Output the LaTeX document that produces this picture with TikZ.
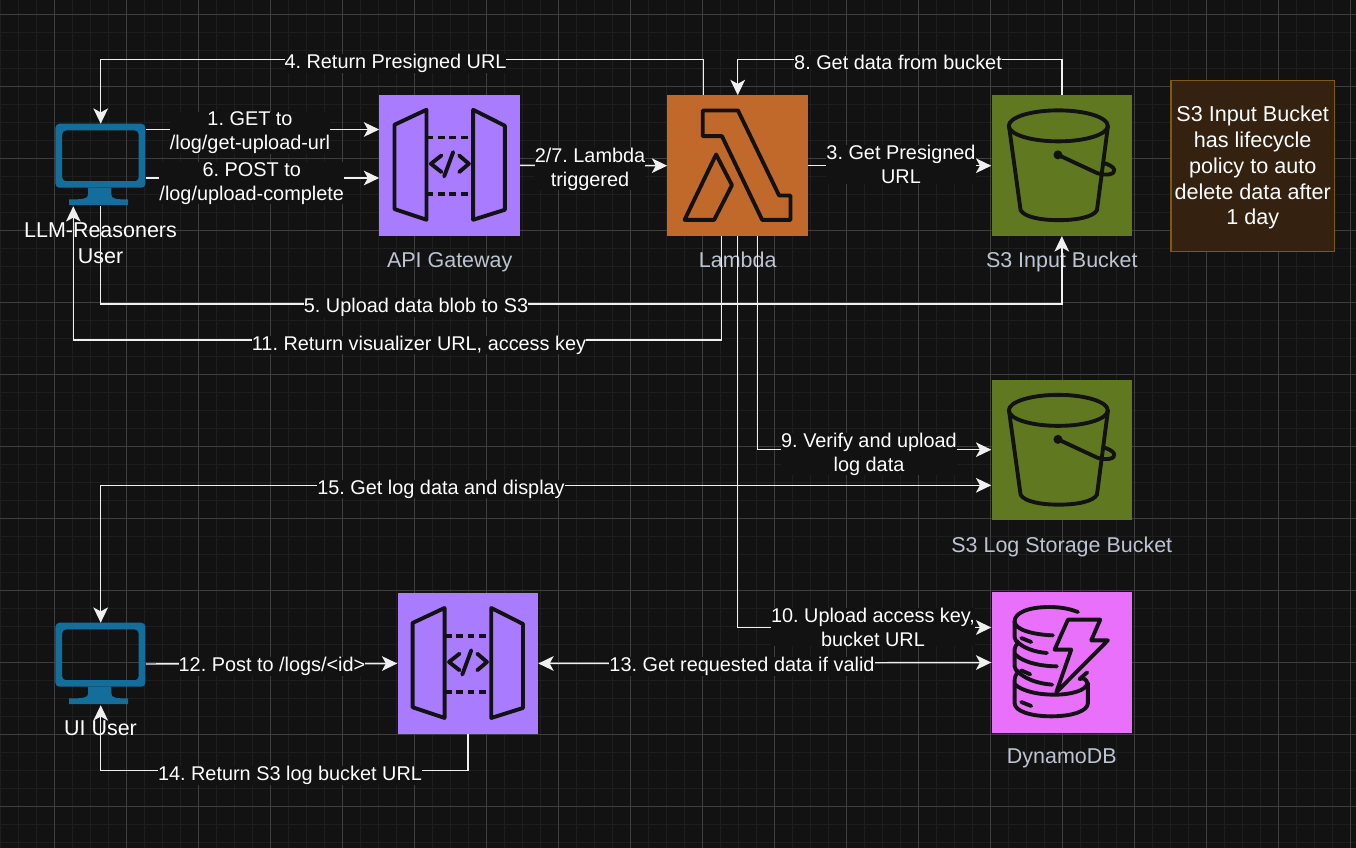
\documentclass[tikz,border=0pt]{standalone}
\usepackage{fontspec}
\setmainfont{Liberation Sans}
\frenchspacing
\usetikzlibrary{arrows.meta,positioning,calc}
\definecolor{canvas}{RGB}{18,18,18}
\definecolor{minorgrid}{RGB}{30,30,30}
\definecolor{majorgrid}{RGB}{62,62,62}
\definecolor{wire}{RGB}{240,240,240}
\definecolor{gatewayfill}{RGB}{169,124,255}
\definecolor{lambdafill}{RGB}{193,105,42}
\definecolor{bucketfill}{RGB}{96,121,32}
\definecolor{dynamofill}{RGB}{233,112,251}
\definecolor{monitorfill}{RGB}{20,110,155}
\definecolor{awstext}{RGB}{188,196,210}
\definecolor{notefill}{RGB}{52,33,15}
\definecolor{noteedge}{RGB}{125,90,15}
\tikzset{
  >={Stealth[length=11.5pt,width=11pt,inset=3pt]},
  awsbox/.style={minimum width=105.4pt,minimum height=105.4pt,inner sep=0pt},
  userbox/.style={minimum width=67.5pt,minimum height=61.5pt,inner sep=0pt},
  conn/.style={draw=wire,line width=1.1pt,->},
  conntwo/.style={draw=wire,line width=1.1pt,<->},
  iconline/.style={draw=canvas,line width=2.9pt,line join=round,line cap=round},
  awslabel/.style={text=awstext,font=\fontsize{16.1}{18}\selectfont,inner sep=0pt},
  userlabel/.style={text=white,font=\fontsize{16.1}{19}\selectfont,align=center,inner sep=0pt},
  wirelabel/.style={text=white,fill=canvas,font=\fontsize{14.9}{18}\selectfont,align=center,inner sep=0pt},
  pics/bucketicon/.style={code={
    \draw[iconline] (67,30.7) ellipse (49.5 and 15.5);
    \draw[iconline] (17.7,30.7) -- (29.3,115) .. controls (33,122) and (50,125) .. (67.5,125) .. controls (85,125) and (102,122) .. (105.7,115) -- (116.7,30.7);
    \fill[canvas] (66.7,59.7) circle (4.5);
    \draw[iconline] (66.7,59.7) -- (106,78) .. controls (116,81) and (124,79) .. (123,74.5) .. controls (122,71.5) and (117,69) .. (113,68);
  }},
  pics/lambdaicon/.style={code={
    \draw[iconline] (35.6,15.3) -- (70.8,15.3) -- (111.9,100.3) -- (123.3,100.3) -- (123.3,124.7) -- (95,124.7) -- (54.8,41) -- (35.6,41) -- cycle;
    \draw[iconline] (48.9,59.3) -- (64.8,90) -- (47,124.7) -- (17.4,124.7) -- cycle;
  }},
  pics/gatewayicon/.style={code={
    \draw[iconline] (15.3,30) -- (47.3,15) -- (47.3,125) -- (15.3,114.3) -- cycle;
    \draw[iconline] (94,15) -- (125.7,31) -- (125.7,115) -- (94,125) -- cycle;
    \draw[iconline,line cap=butt,dash pattern=on 5.2pt off 3.4pt] (47.3,42.7) -- (94,42.7);
    \draw[iconline,line cap=butt,dash pattern=on 5.2pt off 3.4pt] (47.3,99.3) -- (94,99.3);
    \draw[iconline] (62.3,60.7) -- (51.7,69) -- (62.3,77.3);
    \draw[iconline] (80,60.7) -- (89.7,69) -- (80,77.3);
    \draw[iconline] (74,57.3) -- (65,81.7);
  }},
  pics/dynamoicon/.style={code={
    \begin{scope}[shift={(8.3,7.7)},x=.25pt,y=-.25pt]
      \draw[iconline] (235,37) .. controls (210,27) and (180,22) .. (150,22) .. controls (85,22) and (45,40) .. (45,65) .. controls (45,90) and (100,105) .. (160,107);
      \draw[iconline] (45,65) -- (45,112) .. controls (45,120) and (50,125) .. (56,130) .. controls (50,135) and (45,142) .. (45,150) -- (45,200) .. controls (45,208) and (50,212) .. (56,216) .. controls (50,222) and (45,230) .. (45,245) -- (45,310) .. controls (45,335) and (95,350) .. (155,350) .. controls (215,350) and (265,335) .. (265,310) -- (265,250);
      \draw[iconline] (52,125) .. controls (70,145) and (105,157) .. (142,160);
      \draw[iconline] (48,165) .. controls (70,188) and (125,200) .. (172,200);
      \draw[iconline] (50,212) .. controls (75,238) and (115,252) .. (158,255);
      \draw[iconline] (47,255) .. controls (70,275) and (115,285) .. (165,285) .. controls (215,285) and (262,272) .. (263,250) .. controls (262,240) and (250,232) .. (240,238);
      \draw[iconline] (263,218) -- (240,238);
      \draw[iconline] (65,115) -- (95,127);
      \draw[iconline] (65,212) -- (92,224);
      \draw[iconline] (65,307) -- (95,319);
      \draw[iconline] (205,60) -- (302,60) -- (275,122) -- (325,122) -- (170,278) -- (215,150) -- (165,150) -- cycle;
    \end{scope}
  }},
  pics/monitoricon/.style={code={
    \fill[monitorfill,even odd rule,rounded corners=3pt] (0,0) rectangle (90,64) (6.7,6.7) rectangle (83.3,57.5);
    \fill[monitorfill] (32.6,64) -- (32.6,71) .. controls (32.6,75) and (28,75.7) .. (13.6,75.7) -- (13.6,81.5) -- (72.6,81.5) -- (72.6,75.7) .. controls (60,75.7) and (56,75) .. (56,71) -- (56,64) -- cycle;
  }}
}
\begin{document}
\begin{tikzpicture}[x=.75pt,y=-.75pt]
  \useasboundingbox (0,0) rectangle (1356,848);
  \fill[canvas] (0,0) rectangle (1356,848);
  \foreach \gx in {0.3,18.3,...,1356} \draw[minorgrid,line width=1.1pt] (\gx,0) -- (\gx,848);
  \foreach \gy in {14.7,32.7,...,848} \draw[minorgrid,line width=1.1pt] (0,\gy) -- (1356,\gy);
  \foreach \gx in {54.3,126.3,...,1356} \draw[majorgrid,line width=.75pt] (\gx,0) -- (\gx,848);
  \foreach \gy in {14.7,86.7,...,848} \draw[majorgrid,line width=.75pt] (0,\gy) -- (1356,\gy);

  \node[userbox] (user1) at (100.7,165) {};
  \node[userbox] (user2) at (100.7,664) {};
  \node[awsbox,fill=gatewayfill] (gateway1) at (449.7,165.3) {};
  \node[awsbox,fill=lambdafill] (lambda) at (737.7,165.7) {};
  \node[awsbox,fill=bucketfill] (s3in) at (1061.8,165.7) {};
  \node[awsbox,fill=bucketfill] (s3log) at (1061.8,450.2) {};
  \node[awsbox,fill=dynamofill] (dynamo) at (1061.8,662.5) {};
  \node[awsbox,fill=gatewayfill] (gateway2) at (467.8,663.5) {};
  \pic at (user1.north west) {monitoricon};
  \pic at (user2.north west) {monitoricon};
  \pic at (gateway1.north west) {gatewayicon};
  \pic at (gateway2.north west) {gatewayicon};
  \pic at (lambda.north west) {lambdaicon};
  \pic at (s3in.north west) {bucketicon};
  \pic at (s3log.north west) {bucketicon};
  \pic at (dynamo.north west) {dynamoicon};

  \node[userlabel] (user1txt) at (100.5,243.3) {LLM-Reasoners\\User};
  \node[userlabel] (user2txt) at (100.5,728) {UI User};
  \node[awslabel] (gateway1txt) at (449.7,262.3) {API Gateway};
  \node[awslabel] (lambdatxt) at (737.7,260) {Lambda};
  \node[awslabel] (s3intxt) at (1061.8,261.5) {S3 Input Bucket};
  \node[awslabel] (s3logtxt) at (1061.8,546.5) {S3 Log Storage Bucket};
  \node[awslabel] (dynamotxt) at (1061.8,758) {DynamoDB};

  \coordinate (y1) at (0,129.5); \coordinate (y6) at (0,178);
  \coordinate (y4) at (0,59.7); \coordinate (y5) at (0,304.2);
  \coordinate (y11) at (0,340); \coordinate (y9) at (0,449.7);
  \coordinate (y10) at (0,627.5); \coordinate (y14) at (0,770.7);
  \coordinate (y15) at (0,485.3);
  \coordinate (x4) at (703.5,0); \coordinate (x11) at (721.5,0);
  \coordinate (x9) at (757.7,0); \coordinate (x73) at (73.3,0);
  \draw[conn] (user1.east |- y1) -- (gateway1.west |- y1);
  \draw[conn] (user1.east |- y6) -- (gateway1.west |- y6);
  \draw[conn] (gateway1.east) -- (lambda.west);
  \draw[conn] (lambda.east) -- (s3in.west);
  \draw[conn] (lambda.north -| x4) |- (y4 -| user1.north) -- (user1.north);
  \draw[conn] (s3in.north) |- (y4 -| lambda.north) -- (lambda.north);
  \draw[conn] (user1.south) |- (y5 -| s3in.south) -- (s3in.south);
  \draw[conn] (lambda.south -| x11) |- (y11 -| x73) -- (user1.south -| x73);
  \draw[conn] (lambda.south -| x9) |- (s3log.west |- y9);
  \draw[conn] (lambda.south) |- (dynamo.west |- y10);
  \draw[conntwo] (user2.north) |- (s3log.west |- y15);
  \draw[conn] (user2.east) -- (gateway2.west);
  \draw[conntwo] (gateway2.east) -- (dynamo.west);
  \draw[conn] (gateway2.south) |- (y14 -| user2.south) -- (user2.south);

  \node[wirelabel] (lbl1) at (250,133) {1. GET to\\/log/get-upload-url};
  \node[wirelabel] (lbl6) at (251.7,183.5) {6. POST to\\/log/upload-complete};
  \node[wirelabel] (lbl27) at (590,169) {2/7. Lambda\\triggered};
  \node[wirelabel] (lbl3) at (901,164.5) {3. Get Presigned\\URL};
  \node[wirelabel] (lbl4) at (395.5,63.5) {4. Return Presigned URL};
  \node[wirelabel] (lbl8) at (898,62) {8. Get data from bucket};
  \node[wirelabel] (lbl5) at (416,307.5) {5. Upload data blob to S3};
  \node[wirelabel] (lbl11) at (419,345) {11. Return visualizer URL, access key};
  \node[wirelabel] (lbl9) at (869,454) {9. Verify and upload\\log data};
  \node[wirelabel] (lbl15) at (441,489) {15. Get log data and display};
  \node[wirelabel] (lbl10) at (873,627) {10. Upload access key,\\bucket URL};
  \node[wirelabel] (lbl13) at (742,666.5) {13. Get requested data if valid};
  \node[wirelabel] (lbl12) at (272,666.5) {12. Post to /logs/<id>};
  \node[wirelabel] (lbl14) at (290,775.5) {14. Return S3 log bucket URL};

  \node[draw=noteedge,fill=notefill,line width=.9pt,inner sep=0pt,
    minimum width=122.5pt,minimum height=128.5pt] (note) at (1252.7,165.8) {};
  \node[text=white,align=center,inner sep=0pt,font=\fontsize{16.2}{19.3}\selectfont] (notetxt) at (1252.7,167.8)
    {S3 Input Bucket\\has lifecycle\\policy to auto\\delete data after\\1 day};
\end{tikzpicture}
\end{document}
